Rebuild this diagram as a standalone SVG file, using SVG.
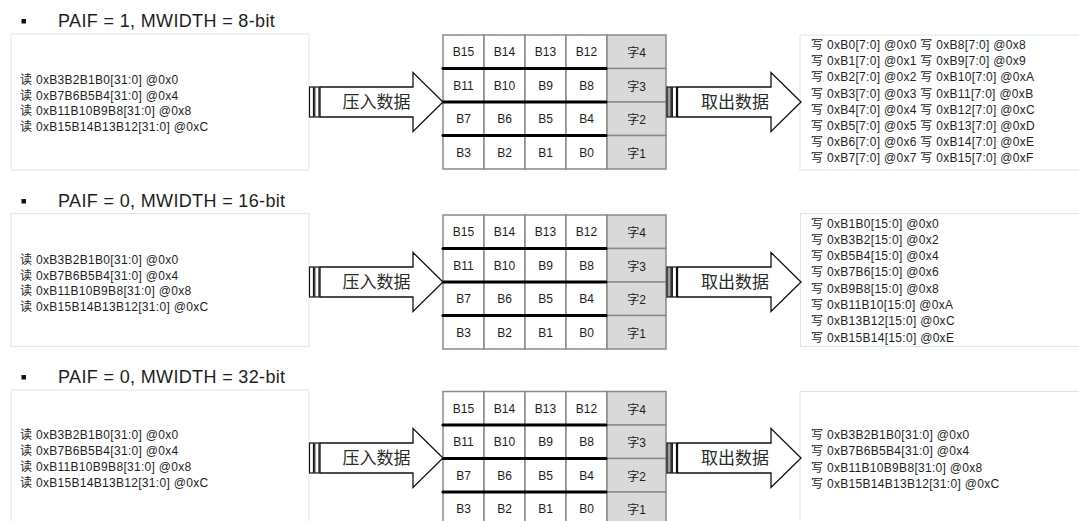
<svg xmlns="http://www.w3.org/2000/svg" width="1079" height="521" viewBox="0 0 1079 521">
<defs>
<style>
text{font-family:"Liberation Sans",Arial,"Noto Sans CJK SC",sans-serif;fill:#1e1e1e}
.title{font-size:18px;letter-spacing:0.35px}
.bul{fill:#111}
.box{fill:#fff;stroke:#dbe5ef;stroke-width:1}
.t{font-size:12px;letter-spacing:0.3px}
.cw{fill:#fff;stroke:#8a8a8a;stroke-width:1.5}
.cg{fill:#d9d9d9;stroke:#8a8a8a;stroke-width:1.5}
.ct{font-size:12px;text-anchor:middle}
.sep{stroke:#000;stroke-width:3.2;stroke-linecap:round}
.arr{fill:#fff;stroke:#111;stroke-width:1.3;stroke-linejoin:miter}
.bar{fill:#fff;stroke:#111;stroke-width:1.2}
.at{font-size:17px;text-anchor:middle;fill:#2a2a2a}
</style>
<g id="gridtpl">
<rect class="cw" x="443" y="35" width="41" height="33.5"/><rect class="cw" x="484" y="35" width="41" height="33.5"/><rect class="cw" x="525" y="35" width="41" height="33.5"/><rect class="cw" x="566" y="35" width="41" height="33.5"/><rect class="cg" x="607" y="35" width="59" height="33.5"/>
<rect class="cw" x="443" y="68.5" width="41" height="33.5"/><rect class="cw" x="484" y="68.5" width="41" height="33.5"/><rect class="cw" x="525" y="68.5" width="41" height="33.5"/><rect class="cw" x="566" y="68.5" width="41" height="33.5"/><rect class="cg" x="607" y="68.5" width="59" height="33.5"/>
<rect class="cw" x="443" y="102" width="41" height="33.5"/><rect class="cw" x="484" y="102" width="41" height="33.5"/><rect class="cw" x="525" y="102" width="41" height="33.5"/><rect class="cw" x="566" y="102" width="41" height="33.5"/><rect class="cg" x="607" y="102" width="59" height="33.5"/>
<rect class="cw" x="443" y="135.5" width="41" height="33.5"/><rect class="cw" x="484" y="135.5" width="41" height="33.5"/><rect class="cw" x="525" y="135.5" width="41" height="33.5"/><rect class="cw" x="566" y="135.5" width="41" height="33.5"/><rect class="cg" x="607" y="135.5" width="59" height="33.5"/>
<line class="sep" x1="443" y1="68.5" x2="606" y2="68.5"/><line class="sep" x1="443" y1="102" x2="606" y2="102"/><line class="sep" x1="443" y1="135.5" x2="606" y2="135.5"/>
<text class="ct" x="463.5" y="56">B15</text><text class="ct" x="504.5" y="56">B14</text><text class="ct" x="545.5" y="56">B13</text><text class="ct" x="586.5" y="56">B12</text><text class="ct" x="636.5" y="57">字4</text>
<text class="ct" x="463.5" y="89.5">B11</text><text class="ct" x="504.5" y="89.5">B10</text><text class="ct" x="545.5" y="89.5">B9</text><text class="ct" x="586.5" y="89.5">B8</text><text class="ct" x="636.5" y="90.5">字3</text>
<text class="ct" x="463.5" y="123">B7</text><text class="ct" x="504.5" y="123">B6</text><text class="ct" x="545.5" y="123">B5</text><text class="ct" x="586.5" y="123">B4</text><text class="ct" x="636.5" y="124">字2</text>
<text class="ct" x="463.5" y="156.5">B3</text><text class="ct" x="504.5" y="156.5">B2</text><text class="ct" x="545.5" y="156.5">B1</text><text class="ct" x="586.5" y="156.5">B0</text><text class="ct" x="636.5" y="157.5">字1</text>
</g>
<g id="inarrow">
<rect class="bar" x="309.5" y="87" width="4" height="30"/><rect class="bar" x="314.8" y="87" width="4.2" height="30"/>
<polygon class="arr" points="320,87 413,87 413,72.5 443,102 413,131.5 413,117 320,117"/>
<text class="at" x="376.5" y="108">压入数据</text>
</g>
<g id="outarrow">
<rect class="bar" x="667" y="87" width="4.2" height="30" style="fill:#9a9a9a"/><rect class="bar" x="672.3" y="87" width="4.2" height="30"/>
<polygon class="arr" points="677.5,87 771,87 771,72.5 801,102 771,131.5 771,117 677.5,117"/>
<text class="at" x="735" y="108">取出数据</text>
</g>
</defs>

<!-- Section 1 -->
<g id="title1"><rect class="bul" x="21.5" y="19" width="4.5" height="4.5"/><text class="title" x="58" y="27">PAIF = 1, MWIDTH = 8-bit</text></g>
<g id="read1">
<rect class="box" x="11" y="34" width="298" height="136"/>
<text class="t" x="20" y="84">读 0xB3B2B1B0[31:0] @0x0</text>
<text class="t" x="20" y="99.6">读 0xB7B6B5B4[31:0] @0x4</text>
<text class="t" x="20" y="115.2">读 0xB11B10B9B8[31:0] @0x8</text>
<text class="t" x="20" y="130.8">读 0xB15B14B13B12[31:0] @0xC</text>
</g>
<g id="fifo1"><use href="#gridtpl"/></g>
<g id="write1">
<rect class="box" x="800" y="35" width="290" height="135"/>
<text class="t" x="811" y="49">写 0xB0[7:0] @0x0 写 0xB8[7:0] @0x8</text>
<text class="t" x="811" y="65.2">写 0xB1[7:0] @0x1 写 0xB9[7:0] @0x9</text>
<text class="t" x="811" y="81.4">写 0xB2[7:0] @0x2 写 0xB10[7:0] @0xA</text>
<text class="t" x="811" y="97.6">写 0xB3[7:0] @0x3 写 0xB11[7:0] @0xB</text>
<text class="t" x="811" y="113.8">写 0xB4[7:0] @0x4 写 0xB12[7:0] @0xC</text>
<text class="t" x="811" y="130">写 0xB5[7:0] @0x5 写 0xB13[7:0] @0xD</text>
<text class="t" x="811" y="146.2">写 0xB6[7:0] @0x6 写 0xB14[7:0] @0xE</text>
<text class="t" x="811" y="162.4">写 0xB7[7:0] @0x7 写 0xB15[7:0] @0xF</text>
</g>

<!-- Section 2 -->
<g id="title2"><rect class="bul" x="21.5" y="199" width="4.5" height="4.5"/><text class="title" x="58" y="207">PAIF = 0, MWIDTH = 16-bit</text></g>
<g id="read2">
<rect class="box" x="11" y="213.5" width="298" height="133"/>
<text class="t" x="20" y="264">读 0xB3B2B1B0[31:0] @0x0</text>
<text class="t" x="20" y="279.6">读 0xB7B6B5B4[31:0] @0x4</text>
<text class="t" x="20" y="295.2">读 0xB11B10B9B8[31:0] @0x8</text>
<text class="t" x="20" y="310.8">读 0xB15B14B13B12[31:0] @0xC</text>
</g>
<g id="fifo2"><use href="#gridtpl" transform="translate(0,180)"/></g>
<g id="write2">
<rect class="box" x="800.5" y="213.5" width="290" height="133"/>
<text class="t" x="811" y="227.5">写 0xB1B0[15:0] @0x0</text>
<text class="t" x="811" y="243.8">写 0xB3B2[15:0] @0x2</text>
<text class="t" x="811" y="260.1">写 0xB5B4[15:0] @0x4</text>
<text class="t" x="811" y="276.4">写 0xB7B6[15:0] @0x6</text>
<text class="t" x="811" y="292.7">写 0xB9B8[15:0] @0x8</text>
<text class="t" x="811" y="309">写 0xB11B10[15:0] @0xA</text>
<text class="t" x="811" y="325.3">写 0xB13B12[15:0] @0xC</text>
<text class="t" x="811" y="341.6">写 0xB15B14[15:0] @0xE</text>
</g>

<!-- Section 3 -->
<g id="title3"><rect class="bul" x="21.5" y="375" width="4.5" height="4.5"/><text class="title" x="58" y="383">PAIF = 0, MWIDTH = 32-bit</text></g>
<g id="read3">
<rect class="box" x="11" y="390" width="298" height="140"/>
<text class="t" x="20" y="439">读 0xB3B2B1B0[31:0] @0x0</text>
<text class="t" x="20" y="455">读 0xB7B6B5B4[31:0] @0x4</text>
<text class="t" x="20" y="471">读 0xB11B10B9B8[31:0] @0x8</text>
<text class="t" x="20" y="487">读 0xB15B14B13B12[31:0] @0xC</text>
</g>
<g id="fifo3"><use href="#gridtpl" transform="translate(0,356.5)"/></g>
<g id="write3">
<rect class="box" x="800" y="391.5" width="290" height="140"/>
<text class="t" x="811" y="439">写 0xB3B2B1B0[31:0] @0x0</text>
<text class="t" x="811" y="455.3">写 0xB7B6B5B4[31:0] @0x4</text>
<text class="t" x="811" y="471.6">写 0xB11B10B9B8[31:0] @0x8</text>
<text class="t" x="811" y="487.9">写 0xB15B14B13B12[31:0] @0xC</text>
</g>

<g id="connectors">
<use href="#inarrow"/>
<use href="#outarrow"/>
<use href="#inarrow" transform="translate(0,180)"/>
<use href="#outarrow" transform="translate(0,180)"/>
<use href="#inarrow" transform="translate(0,356)"/>
<use href="#outarrow" transform="translate(0,356)"/>
</g>
</svg>
